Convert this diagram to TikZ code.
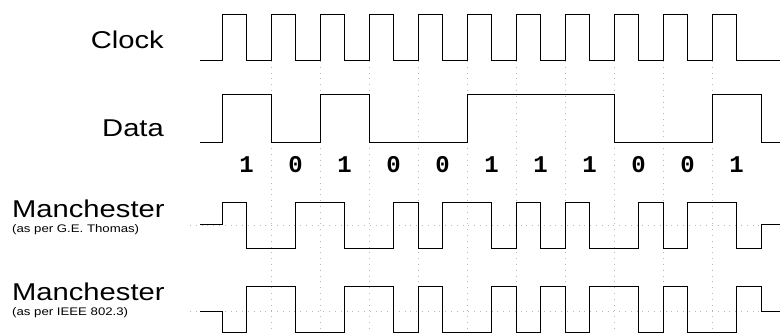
\documentclass[tikz,border=0pt]{standalone}
\usepackage{fontspec}
\setmainfont{Liberation Sans}
\setmonofont{Liberation Mono}
\newfontfamily\wsans[FakeStretch=1.2]{Liberation Sans}
\usetikzlibrary{positioning}
\tikzset{
  wave/.style={line width=1pt,line join=miter},
  guide/.style={gray!55,line width=0.5pt,dash pattern=on 0.8pt off 5pt},
  signame/.style={inner sep=0pt,font=\wsans\fontsize{24.3}{26}\selectfont},
  subname/.style={inner sep=0pt,anchor=base west,font=\wsans\fontsize{11}{13}\selectfont},
  bit/.style={inner sep=0pt,font=\ttfamily\bfseries\fontsize{24}{26}\selectfont}
}

\begin{document}
\begin{tikzpicture}[x=1pt,y=-1pt,node distance=49pt]

    \useasboundingbox (0,0) rectangle (780,334);

    % labels on the left
    \draw (164,48.5) node[signame,anchor=base east] (CL) {Clock};
    \draw (164,136.5) node[signame,anchor=base east] (DA) {Data};
    \draw (12,218) node[signame,anchor=base west] (MT) {Manchester};
    \draw (12,233) node[subname] (MTs) {(as per G.E. Thomas)};
    \draw (12,300) node[signame,anchor=base west] (MI) {Manchester};
    \draw (12,315.5) node[subname] (MIs) {(as per IEEE 802.3)};

    % faint guides at the bit cells
    \draw[guide] (271,61) -- (271,332);
    \draw[guide] (320,61) -- (320,332);
    \draw[guide] (369,61) -- (369,332);
    \draw[guide] (418,61) -- (418,332);
    \draw[guide] (467,61) -- (467,332);
    \draw[guide] (516,61) -- (516,332);
    \draw[guide] (565,61) -- (565,332);
    \draw[guide] (614,61) -- (614,332);
    \draw[guide] (663,61) -- (663,332);
    \draw[guide] (712,61) -- (712,332);
    \draw[guide] (190,225) -- (761,225);
    \draw[guide] (190,311) -- (761,311);

    % clock
    \draw[wave] (200,61) -- (222,61) |- (246.5,15) |- (271,61) |- (295.5,15) |- (320,61)
        |- (344.5,15) |- (369,61) |- (393.5,15) |- (418,61) |- (442.5,15) |- (467,61)
        |- (491.5,15) |- (516,61) |- (540.5,15) |- (565,61) |- (589.5,15) |- (614,61)
        |- (638.5,15) |- (663,61) |- (687.5,15) |- (712,61) |- (736.5,15) |- (780,61);

    % data
    \draw[wave] (200,143) -| (222,95) -| (271,143) -| (320,95) -| (369,143)
        -| (467,95) -| (614,143) -| (712,95) -| (761,143) -- (780,143);

    % bit values
    \draw (246.5,165) node[bit] (B1) {1};
    \node[bit,right of=B1] (B2) {0};
    \node[bit,right of=B2] (B3) {1};
    \node[bit,right of=B3] (B4) {0};
    \node[bit,right of=B4] (B5) {0};
    \node[bit,right of=B5] (B6) {1};
    \node[bit,right of=B6] (B7) {1};
    \node[bit,right of=B7] (B8) {1};
    \node[bit,right of=B8] (B9) {0};
    \node[bit,right of=B9] (B10) {0};
    \node[bit,right of=B10] (B11) {1};

    % manchester, G.E. Thomas
    \draw[wave] (200,225) -| (222,203) -| (246.5,249) -| (295.5,203) -| (344.5,249)
        -| (393.5,203) -| (418,249) -| (442.5,203) -| (491.5,249) -| (516,203)
        -| (540.5,249) -| (565,203) -| (589.5,249) -| (638.5,203) -| (663,249)
        -| (687.5,203) -| (736.5,249) -| (761,225) -- (780,225);

    % manchester, IEEE 802.3
    \draw[wave] (200,311) -| (222,332) -| (246.5,286) -| (295.5,332) -| (344.5,286)
        -| (393.5,332) -| (418,286) -| (442.5,332) -| (491.5,286) -| (516,332)
        -| (540.5,286) -| (565,332) -| (589.5,286) -| (638.5,332) -| (663,286)
        -| (687.5,332) -| (736.5,286) -| (761,311) -- (780,311);

\end{tikzpicture}
\end{document}
